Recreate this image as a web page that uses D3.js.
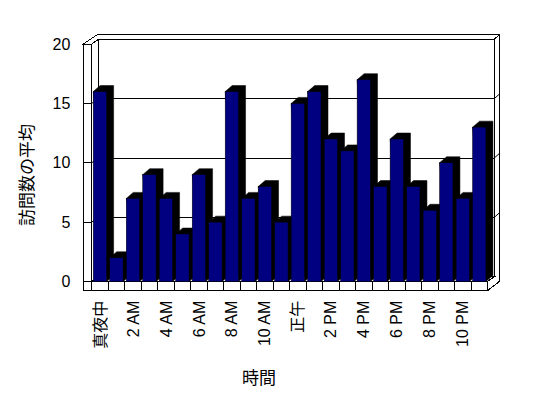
<!DOCTYPE html>
<html>
<head>
<meta charset="utf-8">
<script src="https://cdn.jsdelivr.net/npm/d3@7"></script>
<style>
  html, body { margin: 0; padding: 0; background: #fff; }
  svg { display: block; }
  text { font-family: "Liberation Sans", Arial, "Noto Sans CJK JP", sans-serif; fill: #000; }
</style>
</head>
<body>
<svg id="chart" width="548" height="398"></svg>
<script>
// ---- data ----
const hours = ["真夜中","1 AM","2 AM","3 AM","4 AM","5 AM","6 AM","7 AM","8 AM","9 AM","10 AM","11 AM",
               "正午","1 PM","2 PM","3 PM","4 PM","5 PM","6 PM","7 PM","8 PM","9 PM","10 PM","11 PM"];
const visits = [16,2,7,9,7,4,9,5,16,7,8,5,15,16,12,11,17,8,12,8,6,10,7,13];
const yTicks = [0,5,10,15,20];
const gridValues = [5,10,15];
const xTickLabels = hours.filter((d,i) => i % 2 === 0);
const xTitle = "時間";
const yTitle = "訪問数の平均";

// ---- layout ----
const svg = d3.select("#chart");
const wallLeftOuter = 83.3, plotLeft = 91.7, plotRight = 487.5;
const floorTop = 281.5, floorBottom = 290.7, plotTop = 44;
const wdx = 6.6, wdy = 4.6;   // depth offset of the plot (floor/walls)
const tdx = 5.2, tdy = 4.6;   // back wall thickness
const bdx = 7, bdy = 6;       // bar depth

const x = d3.scaleBand().domain(hours).range([plotLeft, plotRight]).paddingInner(0.19).paddingOuter(0.095);
const y = d3.scaleLinear().domain([0, 20]).range([floorTop, plotTop]);

const backL = plotLeft + wdx, backR = plotRight + wdx;
const outerR = backR + tdx, outerTop = y(20) - wdy - tdy;
const line = d3.line();
const frame = svg.append("g").attr("fill", "#fff").attr("stroke", "#000").attr("stroke-width", 1).attr("shape-rendering", "crispEdges");

// back wall front face
frame.append("rect").attr("x", backL).attr("y", y(20) - wdy).attr("width", backR - backL).attr("height", (y(0) - wdy) - (y(20) - wdy));
// top of back wall + left wall
frame.append("path").attr("d", line([[wallLeftOuter, y(20)], [wallLeftOuter + wdx + tdx + 2, outerTop], [outerR, outerTop], [backR, y(20) - wdy], [backL, y(20) - wdy], [plotLeft, y(20)]]) + "Z");
// right side of back wall / floor
frame.append("path").attr("d", line([[backR, y(20) - wdy], [outerR, outerTop], [outerR, floorTop], [plotRight, floorBottom], [plotRight, floorTop], [backR, y(0) - wdy]]) + "Z");
// left wall inner face
frame.append("path").attr("d", line([[plotLeft, y(20)], [backL, y(20) - wdy], [backL, y(0) - wdy], [plotLeft, y(0)]]) + "Z");
// left wall front face
frame.append("rect").attr("x", wallLeftOuter).attr("y", y(20)).attr("width", plotLeft - wallLeftOuter).attr("height", floorBottom - y(20));
// floor top
frame.append("path").attr("d", line([[plotLeft, y(0)], [backL, y(0) - wdy], [backR, y(0) - wdy], [plotRight, y(0)]]) + "Z");
// floor front face
frame.append("rect").attr("x", wallLeftOuter).attr("y", floorTop).attr("width", plotRight - wallLeftOuter).attr("height", floorBottom - floorTop);
// floor dividers
const step = x.step();
frame.append("g").selectAll("line").data(d3.range(hours.length + 1)).join("line")
  .attr("x1", i => plotLeft + i * step).attr("x2", i => plotLeft + i * step)
  .attr("y1", floorTop).attr("y2", floorBottom);

// gridlines
const grid = svg.append("g").attr("stroke", "#000").attr("fill", "none");
gridValues.forEach(v => {
  const yf = y(v), yb = y(v) - wdy;
  grid.append("line").attr("x1", backL).attr("x2", backR).attr("y1", yb).attr("y2", yb).attr("shape-rendering", "crispEdges");
  grid.append("line").attr("x1", plotLeft).attr("x2", backL).attr("y1", yf).attr("y2", yb);
  grid.append("line").attr("x1", wallLeftOuter).attr("x2", plotLeft).attr("y1", yf).attr("y2", yf).attr("shape-rendering", "crispEdges");
  grid.append("line").attr("x1", backR).attr("x2", outerR).attr("y1", yb).attr("y2", yb - tdy);
});

// bars
const bars = svg.append("g").selectAll("g").data(hours.map((h, i) => ({h, v: visits[i]}))).join("g");
bars.append("path").attr("fill", "#000").attr("stroke", "#000").attr("stroke-width", 0.5)
  .attr("d", d => {
    const x0 = x(d.h), x1 = x0 + x.bandwidth(), yt = y(d.v), yb = y(0);
    return line([[x0, yt], [x0 + bdx, yt - bdy], [x1 + bdx, yt - bdy], [x1 + bdx, yb - bdy], [x1, yb]]) + "Z";
  });
bars.append("rect").attr("fill", "#000080").attr("stroke", "#000").attr("stroke-width", 0.5)
  .attr("x", d => x(d.h)).attr("width", x.bandwidth())
  .attr("y", d => y(d.v)).attr("height", d => y(0) - y(d.v));

// y axis labels
const yAxis = svg.append("g").attr("transform", `translate(${wallLeftOuter},0)`)
  .call(d3.axisLeft(y).tickValues(yTicks).tickSize(0).tickPadding(13));
yAxis.select(".domain").remove();
yAxis.selectAll("text").attr("font-size", 16).style("font-family", "Liberation Sans, Arial, sans-serif");

// x axis labels
const xAxis = svg.append("g").attr("transform", `translate(0,${floorBottom})`)
  .call(d3.axisBottom(x).tickValues(xTickLabels).tickSize(0));
xAxis.select(".domain").remove();
xAxis.selectAll("text")
  .attr("font-size", 16)
  .style("font-family", "Liberation Sans, Arial, Noto Sans CJK JP, sans-serif")
  .attr("transform", "rotate(-90)")
  .attr("text-anchor", "end")
  .attr("x", -10).attr("y", 0).attr("dy", "0.35em");

// titles
svg.append("text").attr("x", 259).attr("y", 376).attr("text-anchor", "middle").attr("dominant-baseline", "central")
  .attr("font-size", 17).style("font-family", "Noto Sans CJK JP, sans-serif").text(xTitle);
svg.append("text").attr("transform", "translate(25,175) rotate(-90)").attr("text-anchor", "middle").attr("dominant-baseline", "central")
  .attr("font-size", 17).style("font-family", "Noto Sans CJK JP, sans-serif").text(yTitle);
</script>
</body>
</html>
